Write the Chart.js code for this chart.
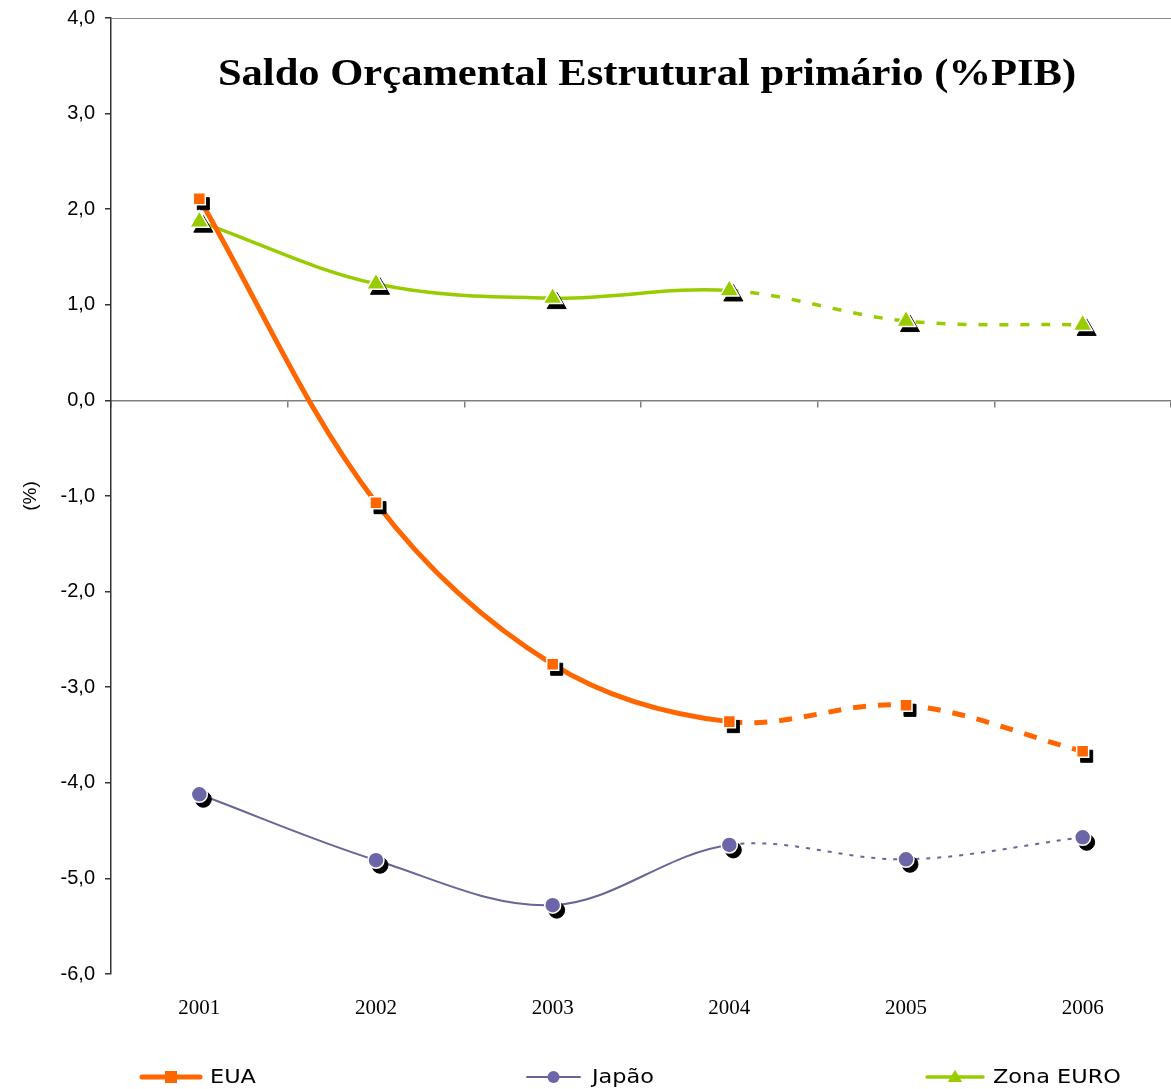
<!DOCTYPE html>
<html>
<head>
<meta charset="utf-8">
<script src="https://cdn.jsdelivr.net/npm/chart.js@4/dist/chart.umd.min.js"></script>
<style>
  html, body { margin: 0; padding: 0; background: #ffffff; overflow: hidden; }
  canvas { display: block; }
</style>
</head>
<body>
<canvas id="c" width="1171" height="1089"></canvas>
<script>
// Anos
const years = ['2001', '2002', '2003', '2004', '2005', '2006'];

// Saldo orçamental estrutural primário (% do PIB)
const eua = [2.11, -1.07, -2.76, -3.36, -3.19, -3.67];
const japao = [-4.12, -4.81, -5.28, -4.65, -4.80, -4.57];
const zonaEuro = [1.87, 1.22, 1.07, 1.15, 0.83, 0.79];

// Eixo vertical
const yMin = -6;
const yMax = 4;
const yStep = 1;

const titleText = 'Saldo Orçamental Estrutural primário (%PIB)';
const yTitle = '(%)';

// Index of the last observed year; later years are projections (dashed)
const lastActual = 3;

const series = [
  { name: 'EUA', data: eua, color: '#FF6600', width: 5, dash: [13, 12], style: 'rect', radius: 8.5 },
  { name: 'Japão', data: japao, color: '#666699', fill: '#6A66A8', width: 2, dash: [4, 7], style: 'circle', radius: 8 },
  { name: 'Zona EURO', data: zonaEuro, color: '#99CC00', width: 3.5, dash: [9, 12], style: 'triangle', radius: 11 }
];

const datasets = [];
series.forEach(s => {
  // smoothed line, solid for actuals, dashed for projections
  datasets.push({
    label: s.name,
    data: s.data,
    borderColor: s.color,
    borderWidth: s.width,
    tension: 0.35,
    pointRadius: 0,
    fill: false,
    order: 30,
    segment: {
      borderDash: ctx => (ctx.p0DataIndex >= lastActual ? s.dash : undefined)
    }
  });
  // drop shadow of the markers
  datasets.push({
    label: s.name + ' sombra',
    data: s.data,
    showLine: false,
    isShadow: true,
    pointStyle: s.style,
    pointRadius: s.radius,
    pointBackgroundColor: '#000000',
    pointBorderColor: '#000000',
    pointBorderWidth: 1,
    order: 20
  });
  // markers
  datasets.push({
    label: s.name + ' marcador',
    data: s.data,
    showLine: false,
    pointStyle: s.style,
    pointRadius: s.radius,
    pointBackgroundColor: s.fill || s.color,
    pointBorderColor: '#ffffff',
    pointBorderWidth: 1.5,
    order: 10
  });
});

function fmt(v) {
  return Number(v).toFixed(1).replace('.', ',');
}

function noPadding(scale) {
  scale.paddingLeft = 0;
  scale.paddingRight = 0;
  scale.paddingTop = 0;
  scale.paddingBottom = 0;
}

// Shift the shadow markers down/right
const shadowPlugin = {
  id: 'shadowShift',
  beforeDatasetDraw(chart, args) {
    const ds = chart.data.datasets[args.index];
    if (ds.isShadow) {
      chart.ctx.save();
      chart.ctx.translate(4, 5);
    }
  },
  afterDatasetDraw(chart, args) {
    const ds = chart.data.datasets[args.index];
    if (ds.isShadow) chart.ctx.restore();
  }
};

function drawMarker(ctx, style, x, y, r, fill) {
  ctx.fillStyle = fill;
  ctx.beginPath();
  if (style === 'rect') {
    ctx.rect(x - r, y - r, 2 * r, 2 * r);
  } else if (style === 'circle') {
    ctx.arc(x, y, r, 0, Math.PI * 2);
  } else {
    ctx.moveTo(x, y - r * 1.1);
    ctx.lineTo(x + r * 1.1, y + r * 0.75);
    ctx.lineTo(x - r * 1.1, y + r * 0.75);
    ctx.closePath();
  }
  ctx.fill();
}

// Title inside the plot, top border and legend under the axis
const decorPlugin = {
  id: 'decor',
  afterDraw(chart) {
    const ctx = chart.ctx;
    const area = chart.chartArea;

    ctx.save();
    ctx.strokeStyle = '#8c8c8c';
    ctx.lineWidth = 1;
    ctx.beginPath();
    ctx.moveTo(area.left, area.top + 0.5);
    ctx.lineTo(area.right, area.top + 0.5);
    ctx.stroke();
    ctx.restore();

    // title
    ctx.save();
    ctx.font = 'bold 38px "Liberation Serif", "Times New Roman", serif';
    ctx.fillStyle = '#000000';
    ctx.textAlign = 'center';
    ctx.textBaseline = 'alphabetic';
    ctx.translate(647, 85);
    ctx.scale(1.12, 1);
    ctx.fillText(titleText, 0, 0);
    ctx.restore();

    // legend
    const items = [
      { s: series[0], x0: 142, x1: 200, tx: 210, mr: 6 },
      { s: series[1], x0: 527, x1: 580, tx: 592, mr: 6 },
      { s: series[2], x0: 927, x1: 983, tx: 993, mr: 6.5 }
    ];
    const ly = 1077;
    items.forEach(it => {
      ctx.save();
      ctx.strokeStyle = it.s.color;
      ctx.lineWidth = it.s.width;
      ctx.lineCap = 'round';
      ctx.beginPath();
      ctx.moveTo(it.x0, ly);
      ctx.lineTo(it.x1, ly);
      ctx.stroke();
      drawMarker(ctx, it.s.style, (it.x0 + it.x1) / 2, ly, it.mr, it.s.fill || it.s.color);
      ctx.restore();

      ctx.save();
      ctx.font = '20px "DejaVu Sans", Verdana, sans-serif';
      ctx.fillStyle = '#000000';
      ctx.textAlign = 'left';
      ctx.textBaseline = 'middle';
      ctx.translate(it.tx, ly + 1);
      ctx.scale(1.12, 1);
      ctx.fillText(it.s.name, 0, 0);
      ctx.restore();
    });
  }
};

new Chart(document.getElementById('c'), {
  type: 'line',
  data: { labels: years, datasets: datasets },
  plugins: [shadowPlugin, decorPlugin],
  options: {
    responsive: false,
    animation: false,
    layout: { autoPadding: false, padding: { top: 18, right: -2, bottom: 0, left: 0 } },
    plugins: {
      legend: { display: false },
      tooltip: { enabled: false },
      title: { display: false }
    },
    scales: {
      x: {
        type: 'category',
        position: 'bottom',
        offset: true,
        grid: { display: false, drawTicks: false },
        border: { display: false },
        ticks: {
          color: '#000000',
          padding: 22,
          maxRotation: 0,
          font: { family: '"Liberation Serif", "Times New Roman", serif', size: 21 }
        },
        afterFit(scale) { scale.height = 115; noPadding(scale); }
      },
      zero: {
        type: 'category',
        axis: 'x',
        position: { y: 0 },
        offset: true,
        grid: {
          display: true,
          offset: true,
          drawOnChartArea: false,
          drawTicks: true,
          tickLength: 6,
          color: '#808080',
          lineWidth: 1.5
        },
        border: { display: true, color: '#808080', width: 1.5 },
        ticks: { display: false },
        afterFit(scale) { noPadding(scale); }
      },
      y: {
        min: yMin,
        max: yMax,
        position: 'left',
        grid: {
          display: true,
          drawOnChartArea: false,
          drawTicks: true,
          tickLength: 6,
          color: '#333333',
          lineWidth: 1.5
        },
        border: { display: true, color: '#333333', width: 1.5 },
        ticks: {
          stepSize: yStep,
          color: '#000000',
          padding: 10,
          font: { family: '"Liberation Sans", Arial, sans-serif', size: 20 },
          callback: v => fmt(v)
        },
        title: {
          display: true,
          text: yTitle,
          color: '#000000',
          padding: { top: 19, bottom: 0 },
          font: { family: '"Liberation Sans", Arial, sans-serif', size: 19 }
        },
        afterFit(scale) { scale.width = 111; noPadding(scale); }
      }
    }
  }
});
</script>
</body>
</html>
